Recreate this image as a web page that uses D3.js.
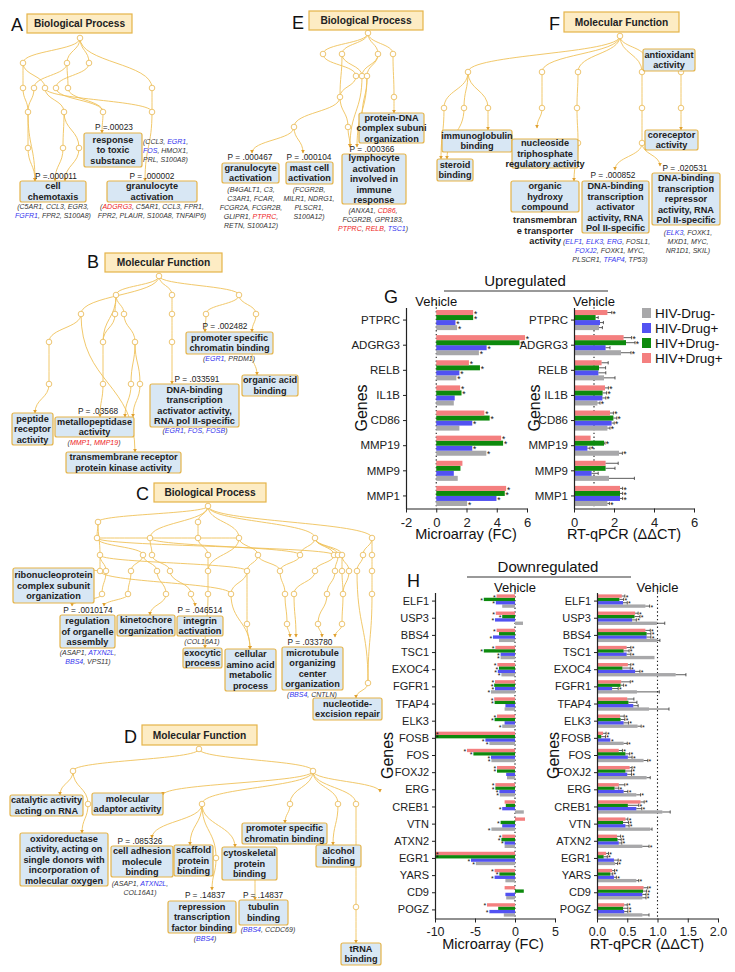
<!DOCTYPE html>
<html lang="en">
<head>
<meta charset="UTF-8">
<title>GO term trees and gene expression</title>
<script src="https://d3js.org/d3.v7.min.js"></script>
<style>
  body { margin: 0; background: #fff; }
  svg { font-family: "Liberation Sans", Arial, sans-serif; }
  text { white-space: pre; }
</style>
</head>
<body>
<script>
// ---------- expression data, values in order HIV-Drug-, HIV-Drug+, HIV+Drug-, HIV+Drug+
const groups = ["HIV-Drug-", "HIV-Drug+", "HIV+Drug-", "HIV+Drug+"];
const groupColors = ["#a8a8aa", "#5252f2", "#0d8a0d", "#f47f7f"];

const upGenes = ["PTPRC", "ADGRG3", "RELB", "IL1B", "CD86", "MMP19", "MMP9", "MMP1"];
const upMicro = [
  [1.38, 1.27, 2.44, 2.44], [2.82, 3.33, 5.5, 5.87], [1.33, 1.53, 2.89, 2.16], [1.16, 1.22, 1.67, 1.58],
  [1.53, 2.38, 3.53, 3.18], [3.31, 2.38, 4.42, 4.29], [1.42, 1.16, 1.6, 1.73], [2.04, 3.98, 4.53, 4.62]
];
const upMicroSig = [
  [1, 1, 1, 1], [1, 1, 1, 1], [1, 1, 1, 1], [0, 0, 1, 1], [0, 1, 1, 1], [1, 1, 1, 1], [0, 0, 0, 0], [1, 1, 1, 1]
];
const upQpcr = [
  [1.25, 1.3, 1.08, 1.67], [2.35, 1.58, 2.6, 2.48], [1.5, 1.22, 1.25, 1.38], [1.17, 1.42, 1.43, 1.55],
  [1.67, 1.88, 1.97, 1.8], [2.25, 0.67, 1.5, 0.83], [1.75, 0.88, 1.58, 1.58], [1.67, 2.3, 2.3, 2.3]
];
const upQpcrErr = [
  [0.17, 0.17, 0.13, 0.22], [0.5, 0.22, 0.45, 0.4], [0.55, 0.37, 0.33, 0.33], [0.13, 0.17, 0.2, 0.17],
  [0.13, 0.13, 0.17, 0.17], [0.17, 0.13, 0.05, 0], [1.27, 0.33, 0.47, 0.63], [0.1, 0.13, 0.13, 0.13]
];
const upQpcrSig = [
  [0, 0, 0, 1], [1, 0, 1, 1], [0, 0, 0, 0], [1, 1, 1, 1], [1, 1, 1, 1], [1, 1, 1, 0], [0, 0, 0, 0], [1, 1, 1, 1]
];

const downGenes = ["ELF1", "USP3", "BBS4", "TSC1", "EXOC4", "FGFR1", "TFAP4", "ELK3", "FOSB", "FOS",
  "FOXJ2", "ERG", "CREB1", "VTN", "ATXN2", "EGR1", "YARS", "CD9", "POGZ"];
const downMicro = [
  [-1.6, -2.4, -3.9, -2.3], [1.0, -2.5, -1.6, -2.4], [-2.0, -2.75, -2.0, -2.3], [-1.8, -1.8, -3.9, -2.45],
  [-1.7, -2.15, -2.0, -2.2], [-3.0, -2.5, -2.6, -2.5], [-1.3, -1.2, -2.55, -2.6], [-1.6, -1.3, -2.55, -2.25],
  [-3.2, -3.7, -10, -10], [-2.95, -3.0, -5.2, -6.0], [-1.0, -1.1, -2.25, -2.25], [-1.9, -1.95, -2.45, -2.45],
  [1.1, -1.6, -1.15, -1.3], [-2.95, -1.6, -1.8, 1.25], [-1.3, -1.3, -1.7, -1.6], [-4.9, -5.5, -10, -10],
  [-1.2, -2.55, -1.95, -2.55], [-1.1, -1.2, 1.1, -1.3], [-1.4, -3.2, -2.1, -3.5]
];
const downMicroSig = [
  [0, 1, 1, 1], [0, 1, 1, 1], [0, 1, 0, 1], [1, 1, 1, 1], [1, 1, 1, 1], [1, 1, 1, 1], [0, 0, 1, 1], [1, 0, 1, 1],
  [1, 1, 1, 1], [1, 1, 1, 1], [0, 0, 1, 1], [1, 1, 1, 1], [0, 1, 0, 0], [1, 0, 1, 0], [0, 1, 1, 1], [1, 1, 1, 1],
  [0, 1, 1, 1], [0, 0, 0, 0], [0, 1, 0, 1]
];
const downQpcr = [
  [0.8, 0.43, 0.37, 0.41], [0.99, 0.58, 0.62, 0.63], [0.99, 0.82, 0.82, 0.8], [0.95, 0.49, 0.44, 0.49],
  [1.3, 0.63, 0.42, 0.51], [0.66, 0.25, 0.39, 0.4], [0.86, 0.6, 0.52, 0.5], [0.67, 0.44, 0.39, 0.38],
  [0.44, 0.22, 0.07, 0.1], [0.77, 0.51, 0.47, 0.36], [0.82, 0.5, 0.47, 0.54], [0.65, 0.44, 0.29, 0.36],
  [1.08, 0.65, 0.51, 0.72], [0.88, 0.47, 0.43, 0.47], [0.75, 0.36, 0.34, 0.33], [0.3, 0.28, 0.11, 0.15],
  [0.65, 0.28, 0.22, 0.25], [0.75, 0.75, 0.76, 0.77], [0.75, 0.45, 0.43, 0.45]
];
const downQpcrErr = [
  [0.07, 0.07, 0.07, 0.05], [0.13, 0.07, 0.09, 0.05], [0.05, 0.07, 0.07, 0.08], [0, 0.07, 0.09, 0.07],
  [0.17, 0.08, 0.13, 0.05], [0.37, 0.1, 0.05, 0.15], [0.33, 0.08, 0.14, 0.11], [0.06, 0.08, 0.07, 0.07],
  [0.06, 0, 0.07, 0.05], [0.07, 0.07, 0.07, 0.06], [0.06, 0.07, 0.1, 0.04], [0.07, 0.07, 0.07, 0.1],
  [0.13, 0.09, 0.18, 0.06], [0.03, 0.06, 0.09, 0.04], [0.11, 0.05, 0.06, 0.06], [0.04, 0.07, 0.06, 0.04],
  [0.04, 0.04, 0.04, 0.04], [0.06, 0.06, 0.06, 0.07], [0.11, 0.06, 0.08, 0.05]
];
const downQpcrSig = [
  [1, 1, 1, 1], [0, 1, 1, 1], [0, 1, 1, 1], [0, 1, 1, 1], [0, 1, 1, 1], [0, 1, 1, 1], [0, 0, 0, 0], [1, 1, 1, 1],
  [1, 1, 1, 1], [1, 1, 1, 1], [0, 1, 1, 1], [1, 1, 1, 1], [0, 1, 1, 1], [0, 1, 1, 1], [1, 1, 1, 1], [1, 1, 1, 1],
  [1, 1, 1, 1], [1, 1, 1, 1], [0, 1, 1, 1]
];

const microTicksUp = [-2, 0, 2, 4, 6];
const qpcrTicksUp = [0, 2, 4, 6];
const microTicksDown = [-10, -5, 0, 5];
const qpcrTicksDown = [0, 0.5, 1, 1.5, 2];

// ---------- GO tree diagrams (layout of each panel)
const headers = [
  ["A", 11, 31, 27, 14, 105, 19, "Biological Process"],
  ["E", 292, 29, 309, 11, 114, 19, "Biological Process"],
  ["F", 549, 30, 564, 12, 115, 20, "Molecular Function"],
  ["B", 87, 268, 105, 253, 117, 19, "Molecular Function"],
  ["C", 136, 500, 154, 483, 112, 19, "Biological Process"],
  ["D", 124, 743, 142, 725, 115, 20, "Molecular Function"]
];

const nodesA = {a0: [80, 38], a1: [23, 63], a2: [67, 63], a3: [89, 63], a4: [23, 88], a5: [34, 88], a6: [45, 88],
  a7: [56, 88], a8: [68, 88], a9: [152, 88], a10: [28, 112], a11: [64, 112], a12: [103, 112], a13: [152, 112],
  a14: [28, 148], a15: [63, 148], a16: [79, 148]};
const endsA = {tx: [102, 133], ch1: [35, 181], ch2: [55, 181], ch3: [65, 181], gr: [145, 181]};
const linksA = "a0-a1 a0-a2 a0-a3 a0-a9 a1-a4 a1-a6 a2-a5 a2-a8 a3-a7 a4-a10 a5-a10 a6-a11 a6-a13 a7-a12 a8-a12 a9-a13 a10-a14 a11-a15 a11-a16 a12-tx a14-ch1 a15-ch2 a16-ch3 a13-gr a10-ch1";

const nodesE = {e0: [368, 33], e1: [323, 54], e2: [342, 54], e3: [378, 54], e4: [393, 54], e5: [356, 76],
  e6: [362, 76], e7: [367, 76], e8: [340, 97], e9: [394, 97], e10: [294, 127], e11: [348, 127]};
const endsE = {ly1: [350, 147], ly2: [357, 147], pd: [394, 113], gr: [252, 153], ms: [303, 153], pl: [362, 118]};
const linksE = "e0-e1 e0-e2 e0-e3 e0-e4 e1-e5 e2-e6 e2-e8 e3-e7 e3-e6 e4-e9 e5-e8 e6-ly1 e7-ly2 e8-e10 e8-e11 e9-pd e10-gr e10-ms e11-ly1 e7-pl";

const nodesF = {f0: [620, 36], f1: [468, 72], f2: [542, 72], f3: [578, 72], f4: [642, 72], f5: [681, 72],
  f6: [444, 108], f7: [464, 108], f8: [488, 108], f9: [542, 108], f10: [577, 108], f11: [642, 108],
  f12: [681, 108], f13: [578, 143], f14: [642, 143]};
const endsF = {an: [645, 58], st1: [441, 159], st2: [447, 159], im: [488, 130], en: [537, 128], og: [574, 181],
  ac: [615, 170], rp: [660, 166], co: [681, 130]};
const linksF = "f0-f1 f0-f2 f0-f3 f0-f4 f0-an f1-f6 f1-f7 f1-f8 f6-st1 f7-st2 f8-im f2-f9 f9-en f3-f10 f10-f13 f13-og f4-f11 f11-f14 f14-ac f14-rp f5-f12 f12-co";

const nodesB = {b0: [159, 276], b1: [116, 295], b2: [172, 295], b3: [239, 295], b4: [81, 314], b5: [115, 314],
  b6: [124, 314], b7: [172, 314], b8: [206, 314], b9: [256, 314], b10: [49, 342], b11: [103, 342],
  b12: [135, 342], b13: [172, 342], b14: [49, 384], b15: [103, 384], b16: [131, 384], b17: [140, 384]};
const endsB = {tm: [135, 452], dn: [172, 384], p1: [205, 332], p2: [252, 332], pb: [252, 354], oa: [257, 375],
  pe: [35, 413], me1: [100, 417], me2: [125, 417], me3: [133, 417]};
const linksB = "b0-b1 b0-b2 b0-b3 b0-b4 b1-b5 b1-b6 b1-b11 b4-b10 b4-tm b5-b11 b6-b12 b2-b7 b7-b13 b13-dn b3-b8 b3-b9 b8-p1 b9-p2 pb-oa b10-b14 b14-pe b11-b15 b15-me1 b12-b16 b12-b17 b16-me2 b17-me3";

const nodesC = {c0: [208, 506], c1: [98, 522], c2: [198, 522], c3: [97, 538], c4: [150, 538], c5: [198, 538],
  c6: [239, 538], c7: [315, 538], c8: [372, 538], c9: [100, 555], c10: [143, 555], c11: [152, 555],
  c12: [208, 555], c13: [258, 555], c14: [300, 555], c15: [334, 555], c16: [338, 555], c17: [342, 555],
  c18: [363, 555], c19: [372, 555], c20: [100, 571], c21: [106, 571], c22: [131, 571], c23: [157, 571],
  c24: [170, 571], c25: [208, 571], c26: [247, 571], c27: [280, 571], c28: [315, 571], c29: [335, 571],
  c30: [342, 571], c31: [349, 571], c32: [357, 571], c33: [372, 571], c34: [102, 594], c35: [128, 594],
  c36: [166, 594], c37: [191, 594], c38: [208, 594], c39: [231, 594], c40: [285, 594], c41: [294, 594],
  c42: [327, 594], c43: [343, 594], c44: [372, 594], c45: [247, 624], c46: [287, 624], c47: [318, 624],
  c48: [342, 624], c49: [368, 683]};
const endsC = {rb: [92, 570], rg1: [72, 606], rg2: [104, 606], kn: [150, 615], in: [195, 606], ex: [205, 648],
  ca: [250, 649], mt1: [296, 637], mt2: [290, 637], mt3: [322, 637], mt4: [335, 637], nu: [356, 698]};
const linksC = "c0-c1 c0-c2 c0-c6 c0-c7 c0-c8 c0-c4 c1-c3 c1-c9 c2-c5 c3-c6 c3-c10 c4-c11 c4-c14 c5-c12 c6-c13 c6-c25 c7-c14 c7-c15 c7-c16 c7-c17 c8-c18 c8-c19 c9-c20 c9-c21 c10-c22 c10-c23 c11-c24 c12-c25 c13-c26 c13-c27 c14-c27 c15-c28 c16-c29 c17-c30 c17-c31 c18-c32 c19-c33 c20-rb c21-c34 c22-c35 c23-c36 c24-c37 c25-c38 c26-c39 c26-c45 c27-c40 c28-c41 c29-c42 c30-c43 c31-c43 c33-c44 c34-rg1 c35-rg2 c36-kn c37-in c38-ex c39-ca c45-ca c40-c46 c41-mt1 c46-mt2 c42-c47 c47-mt3 c43-c48 c48-mt4 c44-c49 c32-c49 c49-nu c9-c26 c3-c15 c20-c39";

const nodesD = {d0: [199, 749], d1: [73, 771], d2: [313, 771], d3: [88, 804], d4: [202, 804], d5: [290, 804],
  d6: [338, 804], d7: [356, 804], d8: [216, 858], d9: [356, 907]};
const endsD = {ca: [60, 795], ox: [82, 833], ad: [163, 795], cl: [152, 838], sc: [190, 845], cy: [235, 847],
  rp: [212, 890], pr: [285, 823], al: [333, 845], tr: [356, 943], cb: [255, 880], tb: [255, 900], dx: [380, 792]};
const linksD = "d0-d1 d0-d2 d1-ca d1-d3 d3-ox d2-ad d2-d4 d4-cl d4-sc d4-cy d4-d8 d8-rp d2-d5 d5-pr d2-d6 d6-al d2-d7 d7-d9 d9-tr cb-tb d2-dx";

// term boxes: x, y, w, h, lines
const terms = [
  [84, 133, 58, 34, ["response", "to toxic", "substance"]],
  [20, 181, 66, 21, ["cell", "chemotaxis"]],
  [107, 181, 90, 21, ["granulocyte", "activation"]],
  [222, 163, 57, 20, ["granulocyte", "activation"]],
  [286, 162, 47, 22, ["mast cell", "activation"]],
  [342, 154, 64, 50, ["lymphocyte", "activation", "involved in", "immune", "response"]],
  [359, 113, 65, 30, ["protein-DNA", "complex subuni", "organization"]],
  [643, 49, 52, 22, ["antioxidant", "activity"]],
  [442, 130, 70, 22, ["immunoglobulin", "binding"]],
  [437, 159, 36, 22, ["steroid", "binding"]],
  [512, 139, 66, 29, ["nucleoside", "triphosphate", "regulatory activity"]],
  [645, 130, 53, 20, ["coreceptor", "activity"]],
  [511, 181, 68, 31, ["organic", "hydroxy", "compound"]],
  [582, 181, 67, 52, ["DNA-binding", "transcription", "activator", "activity, RNA", "Pol II-specific"]],
  [652, 173, 68, 52, ["DNA-binding", "transcription", "repressor", "activity, RNA", "Pol II-specific"]],
  [186, 332, 87, 22, ["promoter specific", "chromatin binding"]],
  [242, 375, 56, 21, ["organic acid", "binding"]],
  [150, 384, 89, 43, ["DNA-binding", "transcription", "activator activity,", "RNA pol II-specific"]],
  [12, 413, 41, 32, ["peptide", "receptor", "activity"]],
  [55, 417, 79, 20, ["metallopeptidase", "activity"]],
  [66, 452, 115, 21, ["transmembrane receptor", "protein kinase activity"]],
  [13, 568, 81, 35, ["ribonucleoprotein", "complex subunit", "organization"]],
  [60, 615, 55, 33, ["regulation", "of organelle", "assembly"]],
  [117, 615, 58, 21, ["kinetochore", "organization"]],
  [177, 616, 46, 20, ["integrin", "activation"]],
  [183, 648, 39, 20, ["exocytic", "process"]],
  [225, 649, 51, 42, ["cellular", "amino acid", "metabolic", "process"]],
  [282, 647, 61, 43, ["microtubule", "organizing", "center", "organization"]],
  [313, 698, 69, 22, ["nucleotide-", "excision repair"]],
  [10, 795, 73, 21, ["catalytic activity", "acting on RNA"]],
  [92, 793, 71, 22, ["molecular", "adaptor activity"]],
  [20, 833, 88, 53, ["oxidoreductase", "activity, acting on", "single donors with", "incorporation of", "molecular oxygen"]],
  [111, 846, 62, 31, ["cell adhesion", "molecule", "binding"]],
  [174, 845, 39, 31, ["scaffold", "protein", "binding"]],
  [222, 847, 55, 33, ["cytoskeletal", "protein", "binding"]],
  [242, 823, 85, 21, ["promoter specific", "chromatin binding"]],
  [316, 845, 45, 22, ["alcohol", "binding"]],
  [168, 901, 68, 32, ["repression", "transcription", "factor binding"]],
  [239, 900, 49, 25, ["tubulin", "binding"]],
  [341, 943, 40, 22, ["tRNA", "binding"]]
];

const pValues = [
  [114, 130, "P =.00023"], [56, 179, "P =.000011"], [152, 179, "P = .000002"],
  [250, 160, "P = .000467"], [309, 160, "P = .000104"], [372, 152, "P = .000366"],
  [613, 178, "P = .000852"], [685, 171, "P = .020531"],
  [225, 329, "P = .002482"], [197, 382, "P = .033591"], [98, 414, "P = .03568"],
  [88, 613, "P = .0010174"], [200, 613, "P = .046514"], [310, 645, "P = .033780"],
  [140, 844, "P = .085326"], [205, 898, "P = .14837"], [263, 898, "P = .14837"]
];

// gene lists under the terms: ^blue^ = downregulated, ~red~ = upregulated
const geneNotes = [
  [143, 144, "start", ["(CCL3, ^EGR1^,", "^FOS^, HMOX1,", "PRL, S100A8)"]],
  [53, 209, "middle", ["(C5AR1, CCL3, EGR3,", "^FGFR1^, FPR2, S100A8)"]],
  [152, 209, "middle", ["(~ADGRG3~, C5AR1, CCL3, FPR1,", "FPR2, PLAUR, S100A8, TNFAIP6)"]],
  [251, 192, "middle", ["(B4GALT1, C3,", "C3AR1, FCAR,", "FCGR2A, FCGR2B,", "GLIPR1, ~PTPRC~,", "RETN, S100A12)"]],
  [309, 192, "middle", ["(FCGR2B,", "MILR1, NDRG1,", "PLSCR1,", "S100A12)"]],
  [373, 213, "middle", ["(ANXA1, ~CD86~,", "FCGR2B, GPR183,", "~PTPRC~, ~RELB~, ^TSC1^)"]],
  [563, 244, "start", ["(^ELF1^, ^ELK3^, ^ERG^, FOSL1,"]],
  [610, 253, "middle", ["^FOXJ2^, FOXK1, MYC,", "PLSCR1, ^TFAP4^, TP53)"]],
  [688, 235, "middle", ["(^ELK3^, FOXK1,", "MXD1, MYC,", "NR1D1, SKIL)"]],
  [229, 361, "middle", ["(^EGR1^, PRDM1)"]],
  [195, 433, "middle", ["(^EGR1^, ^FOS^, ^FOSB^)"]],
  [94, 445, "middle", ["(~MMP1~, ~MMP19~)"]],
  [88, 655, "middle", ["(ASAP1, ^ATXN2L^,", "^BBS4^, VPS11)"]],
  [202, 644, "middle", ["(COL16A1)"]],
  [312, 697, "middle", ["(^BBS4^, CNTLN)"]],
  [140, 886, "middle", ["(ASAP1, ^ATXN2L^,", "COL16A1)"]],
  [205, 941, "middle", ["(^BBS4^)"]],
  [268, 932, "middle", ["(^BBS4^, CCDC69)"]]
];

const W = 735, H = 972;
const lineColor = "#efc25a", boxStroke = "#e5b449", termFill = "#d8e7f4", headFill = "#fdecc4";

const svg = d3.select("body").append("svg").attr("width", W).attr("height", H);
svg.append("rect").attr("width", W).attr("height", H).attr("fill", "#fff");

svg.append("defs").append("marker")
  .attr("id", "arr").attr("viewBox", "0 0 6 6").attr("refX", 5).attr("refY", 3)
  .attr("markerWidth", 4).attr("markerHeight", 4).attr("orient", "auto")
  .append("path").attr("d", "M0,0L6,3L0,6Z").attr("fill", "#e0a030");

const treeLines = svg.append("g");
const treeNodes = svg.append("g");
const boxLayer = svg.append("g");
const textLayer = svg.append("g");

function drawTree(nodes, ends, linkStr) {
  const pos = Object.assign({}, nodes, ends);
  const link = d3.linkVertical();
  const links = linkStr.split(" ").map(s => s.split("-"));
  treeLines.selectAll(null).data(links).join("path")
    .attr("d", l => link({source: pos[l[0]], target: pos[l[1]]}))
    .attr("fill", "none").attr("stroke", lineColor).attr("stroke-width", 0.9)
    .attr("marker-end", l => ends[l[1]] ? "url(#arr)" : null);
  treeNodes.selectAll(null).data(Object.values(nodes)).join("circle")
    .attr("cx", d => d[0]).attr("cy", d => d[1]).attr("r", 2.8)
    .attr("fill", "#fff").attr("stroke", "#e8b850").attr("stroke-width", 0.8);
}
drawTree(nodesA, endsA, linksA);
drawTree(nodesE, endsE, linksE);
drawTree(nodesF, endsF, linksF);
drawTree(nodesB, endsB, linksB);
drawTree(nodesC, endsC, linksC);
drawTree(nodesD, endsD, linksD);

// headers
headers.forEach(([letter, lx, ly, x, y, w, h, label]) => {
  textLayer.append("text").attr("x", lx).attr("y", ly).attr("font-size", 18).attr("fill", "#111").text(letter);
  boxLayer.append("rect").attr("x", x).attr("y", y).attr("width", w).attr("height", h)
    .attr("fill", headFill).attr("stroke", boxStroke).attr("stroke-width", 1.2);
  textLayer.append("text").attr("x", x + w / 2).attr("y", y + h / 2 + 3.6).attr("text-anchor", "middle")
    .attr("font-size", 10.2).attr("font-weight", "bold").attr("fill", "#222").text(label);
});

// term boxes
terms.forEach(([x, y, w, h, lines]) => {
  boxLayer.append("rect").attr("x", x).attr("y", y).attr("width", w).attr("height", h).attr("rx", 2)
    .attr("fill", termFill).attr("stroke", boxStroke).attr("stroke-width", 1.2);
  const lh = 10.5, y0 = y + h / 2 - (lines.length - 1) * lh / 2 + 3.2;
  lines.forEach((t, i) => {
    textLayer.append("text").attr("x", x + w / 2).attr("y", y0 + i * lh).attr("text-anchor", "middle")
      .attr("font-size", 9.2).attr("font-weight", "bold").attr("fill", "#222").text(t);
  });
});

// F: long term name that runs below its box
[["transmembran", 545, 223, "middle"], ["e transporter", 545, 233.5, "middle"], ["activity", 561, 244, "end"]]
  .forEach(([t, x, y, a]) => textLayer.append("text").attr("x", x).attr("y", y).attr("text-anchor", a)
    .attr("font-size", 9.2).attr("font-weight", "bold").attr("fill", "#222").text(t));

pValues.forEach(([x, y, t]) => textLayer.append("text").attr("x", x).attr("y", y).attr("text-anchor", "middle")
  .attr("font-size", 8.3).attr("fill", "#222").text(t));

function richLine(x, y, str, anchor) {
  const t = textLayer.append("text").attr("x", x).attr("y", y).attr("text-anchor", anchor)
    .attr("font-size", 7).attr("font-style", "italic").attr("fill", "#333");
  str.split(/(\^[^\^]+\^|~[^~]+~)/).filter(s => s).forEach(s => {
    let col = "#333", txt = s;
    if (s[0] === "^") { col = "#3434ee"; txt = s.slice(1, -1); }
    else if (s[0] === "~") { col = "#ee2424"; txt = s.slice(1, -1); }
    t.append("tspan").attr("fill", col).text(txt);
  });
}
geneNotes.forEach(([x, y, a, lines]) => lines.forEach((s, i) => richLine(x, y + i * 9, s, a)));

// ---------- bar charts
function drawBars(c) {
  const g = svg.append("g");
  const x = d3.scaleLinear().domain(c.xDomain).range(c.xRange);
  const y = d3.scaleBand().domain(c.genes).range(c.yRange).paddingInner(c.pad).paddingOuter(c.pad / 2);
  const sub = d3.scaleBand().domain([3, 2, 1, 0]).range([0, y.bandwidth()]);
  const rows = c.genes.flatMap((gene, i) => c.vals[i].map((v, k) => ({
    gene, k, v, e: c.errs ? c.errs[i][k] : 0, s: c.sig[i][k]
  })));
  const cy = d => y(d.gene) + sub(d.k) + sub.bandwidth() / 2;

  // reference line (vehicle)
  g.append("line").attr("x1", x(c.ref)).attr("x2", x(c.ref)).attr("y1", c.yRange[0] - 4).attr("y2", c.yRange[1])
    .attr("stroke", "#222").attr("stroke-width", 1.1).attr("stroke-dasharray", "1.4,2.4");

  g.selectAll("rect.bar").data(rows).join("rect").attr("class", "bar")
    .attr("x", d => Math.min(x(0), x(d.v))).attr("width", d => Math.abs(x(d.v) - x(0)))
    .attr("y", d => y(d.gene) + sub(d.k)).attr("height", sub.bandwidth())
    .attr("fill", d => groupColors[d.k]);

  if (c.errs) {
    const eb = rows.filter(d => d.e > 0);
    g.selectAll("line.err").data(eb).join("line").attr("class", "err")
      .attr("x1", d => x(d.v)).attr("x2", d => x(d.v + d.e)).attr("y1", cy).attr("y2", cy)
      .attr("stroke", "#333").attr("stroke-width", 0.8);
    g.selectAll("line.cap").data(eb).join("line").attr("class", "cap")
      .attr("x1", d => x(d.v + d.e)).attr("x2", d => x(d.v + d.e))
      .attr("y1", d => cy(d) - 1.6).attr("y2", d => cy(d) + 1.6)
      .attr("stroke", "#333").attr("stroke-width", 0.8);
  }

  g.selectAll("text.star").data(rows.filter(d => d.s)).join("text").attr("class", "star")
    .attr("x", d => d.v >= 0 ? x(d.v + d.e) + 0.8 : (x(d.v) <= c.xRange[0] + 1 ? x(d.v) + 1 : x(d.v) - 0.8))
    .attr("text-anchor", d => d.v >= 0 || x(d.v) <= c.xRange[0] + 1 ? "start" : "end")
    .attr("y", d => cy(d) + c.starSize * 0.5).attr("font-size", c.starSize).attr("fill", "#111").text("*");

  const xa = g.append("g").attr("transform", `translate(0,${c.yRange[1]})`)
    .call(d3.axisBottom(x).tickValues(c.ticks).tickFormat(c.fmt).tickSize(4).tickSizeOuter(0));
  xa.attr("font-family", null).attr("font-size", c.tickSize).attr("color", "#222");
  xa.select(".domain").attr("stroke-width", 1.2);
  xa.selectAll(".tick text").attr("dy", "0.85em");

  const ya = g.append("g").attr("transform", `translate(${c.yAxisX},0)`)
    .call(d3.axisLeft(y).tickSize(3).tickSizeOuter(0));
  ya.attr("font-family", null).attr("font-size", c.labelSize).attr("color", "#222");
  ya.select(".domain").attr("stroke-width", 1.2);

  g.append("text").attr("x", x(c.ref)).attr("y", c.vehicleY).attr("text-anchor", "middle")
    .attr("font-size", 13).attr("fill", "#111").text("Vehicle");
  g.append("text").attr("x", c.titleX).attr("y", c.titleY).attr("text-anchor", "middle")
    .attr("font-size", 14.5).attr("fill", "#111").text(c.title);
  g.append("text").attr("transform", `translate(${c.genesX},${(c.yRange[0] + c.yRange[1]) / 2}) rotate(-90)`)
    .attr("text-anchor", "middle").attr("font-size", 16).attr("fill", "#111").text("Genes");
}

drawBars({genes: upGenes, vals: upMicro, sig: upMicroSig, xDomain: [-2, 6], xRange: [406, 527],
  yRange: [307.5, 508.5], pad: 0.2, ref: 0, yAxisX: 406, ticks: microTicksUp, fmt: d => d,
  tickSize: 13, labelSize: 11.5, starSize: 8.5, vehicleY: 306, title: "Microarray (FC)", titleX: 466, titleY: 539, genesX: 367});
drawBars({genes: upGenes, vals: upQpcr, errs: upQpcrErr, sig: upQpcrSig, xDomain: [0, 6], xRange: [574, 694],
  yRange: [307.5, 508.5], pad: 0.2, ref: 1, yAxisX: 574, ticks: qpcrTicksUp, fmt: d => d,
  tickSize: 13, labelSize: 11.5, starSize: 8.5, vehicleY: 306, title: "RT-qPCR (\u0394\u0394CT)", titleX: 624, titleY: 539, genesX: 540});
drawBars({genes: downGenes, vals: downMicro, sig: downMicroSig, xDomain: [-10, 5], xRange: [435, 555],
  yRange: [592.5, 918.5], pad: 0.22, ref: 0, yAxisX: 435, ticks: microTicksDown, fmt: d => d,
  tickSize: 12.5, labelSize: 11, starSize: 7, vehicleY: 592, title: "Microarray (FC)", titleX: 493, titleY: 949, genesX: 393});
drawBars({genes: downGenes, vals: downQpcr, errs: downQpcrErr, sig: downQpcrSig, xDomain: [0, 2], xRange: [597, 718],
  yRange: [592.5, 918.5], pad: 0.22, ref: 1, yAxisX: 597, ticks: qpcrTicksDown, fmt: d3.format(".1f"),
  tickSize: 12.5, labelSize: 11, starSize: 7, vehicleY: 592, title: "RT-qPCR (\u0394\u0394CT)", titleX: 647, titleY: 949, genesX: 559});

// section titles
[["Upregulated", 525, 286, 444, 608, 291], ["Downregulated", 548, 572, 467, 631, 577]].forEach(([t, x, y, x1, x2, ly]) => {
  svg.append("text").attr("x", x).attr("y", y).attr("text-anchor", "middle").attr("font-size", 15).attr("fill", "#111").text(t);
  svg.append("line").attr("x1", x1).attr("x2", x2).attr("y1", ly).attr("y2", ly).attr("stroke", "#777").attr("stroke-width", 1.3);
});
svg.append("text").attr("x", 384).attr("y", 303).attr("font-size", 18).attr("fill", "#111").text("G");
svg.append("text").attr("x", 407).attr("y", 587).attr("font-size", 18).attr("fill", "#111").text("H");

// legend
const legend = svg.append("g");
legend.selectAll("rect").data(groups).join("rect")
  .attr("x", 642).attr("y", (d, i) => 308 + i * 15).attr("width", 9).attr("height", 10)
  .attr("fill", (d, i) => groupColors[i]);
legend.selectAll("text").data(groups).join("text")
  .attr("x", 655).attr("y", (d, i) => 318 + i * 15).attr("font-size", 13.5).attr("fill", "#111").text(d => d);
</script>
</body>
</html>
